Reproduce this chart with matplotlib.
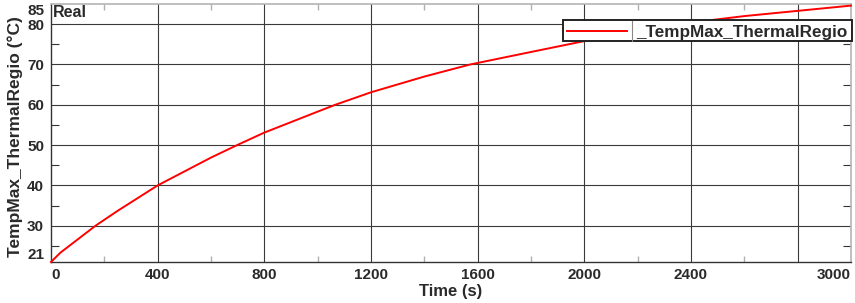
import matplotlib
matplotlib.use("Agg")
import matplotlib.pyplot as plt
from matplotlib.patches import Rectangle
from matplotlib.lines import Line2D

# ---- data ----
time_s = [0, 35, 100, 167, 250, 400, 600, 698, 800, 1000, 1066, 1200, 1400,
          1572, 1800, 2000, 2200, 2400, 2600, 2800, 3000]
temp_c = [21.0, 23.3, 26.6, 30.0, 33.7, 40.0, 46.9, 50.0, 53.1, 58.3, 60.0,
          63.1, 67.0, 70.0, 73.1, 75.8, 78.3, 80.4, 82.0, 83.3, 84.6]

x_ticks = [0, 400, 800, 1200, 1600, 2000, 2400, 2800, 3000]
x_labels = ["0", "400", "800", "1200", "1600", "2000", "2400", "", "3000"]
y_ticks = [21, 30, 40, 50, 60, 70, 80, 85]
y_labels = ["21", "30", "40", "50", "60", "70", "80", "85"]
x_minor = list(range(200, 3000, 400))
y_minor = [25, 35, 45, 55, 65, 75]

series_label = "_TempMax_ThermalRegio"
y_label = "TempMax_ThermalRegio (°C)"
x_label = "Time (s)"
corner_text = "Real"

plt.rcParams['font.family'] = ['Liberation Sans', 'DejaVu Sans']
txt_color = '#2a2a2a'

W, H = 855, 303
fig = plt.figure(figsize=(W / 100, H / 100), dpi=100)
L, R, T, B = 51, 851, 4, 262
ax = fig.add_axes([L / W, (H - B) / H, (R - L) / W, (B - T) / H])

ax.plot(time_s, temp_c, color='#ff0000', lw=1.4, zorder=3, clip_on=False)

ax.set_xlim(0, 3000)
ax.set_ylim(21, 85)

ax.set_xticks(x_ticks, x_labels)
ax.set_yticks(y_ticks, y_labels)
ax.set_xticks(x_minor, minor=True)
ax.set_yticks(y_minor, minor=True)

ax.grid(True, which='major', color='#3a3a3a', lw=0.8)
for t in (ax.xaxis.get_major_ticks()[0], ax.xaxis.get_major_ticks()[-1],
          ax.yaxis.get_major_ticks()[0], ax.yaxis.get_major_ticks()[-1]):
    t.gridline.set_visible(False)

ax.tick_params(which='major', length=0, labelsize=11, labelcolor=txt_color)
ax.tick_params(axis='x', which='major', pad=4)
ax.tick_params(axis='y', which='major', pad=5)
ax.tick_params(axis='x', which='minor', direction='in', length=4, width=1,
               color='#b0b0b0', top=True, bottom=True)
ax.tick_params(axis='y', which='minor', direction='in', length=6, width=0.8,
               color='#333333', left=True, right=True)

for lab in ax.get_xticklabels() + ax.get_yticklabels():
    lab.set_fontweight('bold')

xt = ax.xaxis.get_major_ticks()
xt[0].label1.set_horizontalalignment('left')
xt[-1].label1.set_horizontalalignment('right')
yt = ax.yaxis.get_major_ticks()
yt[0].label1.set_verticalalignment('bottom')
yt[-1].label1.set_verticalalignment('top')

for s in ('left', 'bottom'):
    ax.spines[s].set_color('#333333')
    ax.spines[s].set_linewidth(1.0)
for s in ('top', 'right'):
    ax.spines[s].set_color('#b4b4b4')
    ax.spines[s].set_linewidth(1.2)

ax.set_xlabel(x_label, fontsize=12, fontweight='bold', color=txt_color, va='top')
ax.xaxis.set_label_coords(0.5, -0.086)
ax.set_ylabel(y_label, fontsize=12.5, fontweight='bold', color=txt_color)
ax.yaxis.set_label_coords(-0.035, 0.485)

ax.text(0.002, 0.995, corner_text, transform=ax.transAxes, ha='left', va='top',
        fontsize=11.5, fontweight='bold', color=txt_color)

# legend drawn as box with divider
def axx(px):
    return (px - L) / (R - L)

def axy(py):
    return (B - py) / (B - T)

bx0, bx1, by0, by1 = axx(563), axx(852), axy(41), axy(20.5)
ax.add_patch(Rectangle((bx0, by0), bx1 - bx0, by1 - by0, transform=ax.transAxes,
                       facecolor='white', edgecolor='#222222', lw=1.4,
                       zorder=5, clip_on=False))
ymid = axy(30.7)
ax.add_line(Line2D([axx(567), axx(627)], [ymid, ymid], transform=ax.transAxes,
                   color='#ff0000', lw=1.4, zorder=6, clip_on=False))
ax.add_line(Line2D([axx(631.5), axx(631.5)], [by0, by1], transform=ax.transAxes,
                   color='#888888', lw=0.8, zorder=6, clip_on=False))
ax.text(axx(636), ymid, series_label, transform=ax.transAxes, ha='left',
        va='center_baseline', fontsize=12.3, fontweight='bold', color=txt_color,
        zorder=7)

fig.savefig('out.png', dpi=100)
